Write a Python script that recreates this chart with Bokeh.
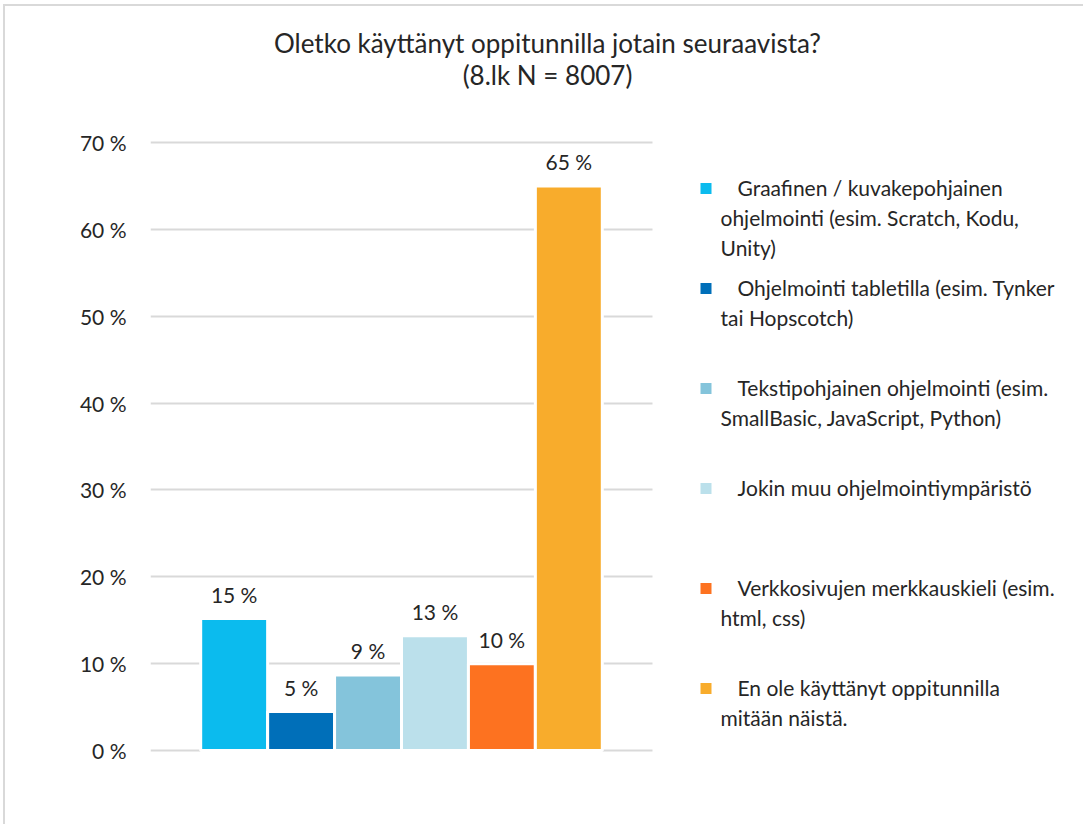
from bokeh.plotting import figure
from bokeh.models import ColumnDataSource, Range1d, FixedTicker, Label, LabelSet
from bokeh.core.properties import value
from bokeh.embed import file_html
from bokeh.resources import INLINE

# ---- data ----
categories = [
    "Graafinen / kuvakepohjainen ohjelmointi (esim. Scratch, Kodu, Unity)",
    "Ohjelmointi tabletilla (esim. Tynker tai Hopscotch)",
    "Tekstipohjainen ohjelmointi (esim. SmallBasic, JavaScript, Python)",
    "Jokin muu ohjelmointiympäristö",
    "Verkkosivujen merkkauskieli (esim. html, css)",
    "En ole käyttänyt oppitunnilla mitään näistä.",
]
values = [15.2, 4.5, 8.7, 13.2, 10.0, 65.0]
value_labels = ["15 %", "5 %", "9 %", "13 %", "10 %", "65 %"]
colors = ["#0BBBEE", "#006FB9", "#84C4DB", "#BBE0EB", "#FD7220", "#F8AC2C"]
legend_lines = [
    ["Graafinen / kuvakepohjainen", "ohjelmointi (esim. Scratch, Kodu,", "Unity)"],
    ["Ohjelmointi tabletilla (esim. Tynker", "tai Hopscotch)"],
    ["Tekstipohjainen ohjelmointi (esim.", "SmallBasic, JavaScript, Python)"],
    ["Jokin muu ohjelmointiympäristö"],
    ["Verkkosivujen merkkauskieli (esim.", "html, css)"],
    ["En ole käyttänyt oppitunnilla", "mitään näistä."],
]
y_ticks = [0, 10, 20, 30, 40, 50, 60, 70]
y_tick_labels = ["0 %", "10 %", "20 %", "30 %", "40 %", "50 %", "60 %", "70 %"]
title_lines = ["Oletko käyttänyt oppitunnilla jotain seuraavista?", "(8.lk N = 8007)"]

FONT = "Lato"
TXT = "#262626"
BORDER = "#D9D9D9"

# ---- layout (page pixels) ----
OX, OY = 5, 6                 # canvas origin on the page (after css border)
W, H = 1080, 820              # canvas size
PL, PR, PT, PB = 150, 652, 142, 750   # chart plot area (page px)
FRAME_TOP, FRAME_BOTTOM = OY, 790      # drawing frame (page px)
PPU_X = (PR - PL) / 7.5
PPU_Y = (PB - PT) / 70.0
X0 = -1.25
X1 = X0 + (OX + W - PL) / PPU_X
Y0 = -(FRAME_BOTTOM - PB) / PPU_Y
Y1 = (PB - FRAME_TOP) / PPU_Y

def dx(px):
    return X0 + (px - PL) / PPU_X

def dy(py):
    return (PB - py) / PPU_Y

p = figure(width=W, height=H, output_backend="svg", toolbar_location=None,
           x_range=Range1d(X0, X1), y_range=Range1d(Y0, Y1),
           x_axis_location=None, tools="")
p.min_border_left = PL - OX
p.min_border_right = 0
p.min_border_top = 0
p.min_border_bottom = OY + H - FRAME_BOTTOM
p.outline_line_color = None
p.background_fill_color = "white"
p.border_fill_color = "white"
p.styles = {"border-left": f"2px solid {BORDER}", "border-top": f"2px solid {BORDER}",
            "margin-left": "3px", "margin-top": "4px"}

src = ColumnDataSource(dict(x=list(range(len(values))), top=values,
                            color=colors, label=value_labels))
p.vbar(x="x", top="top", width=1.0, bottom=0, fill_color="color",
       line_color="white", line_width=3, source=src)

p.yaxis.ticker = FixedTicker(ticks=y_ticks)
p.yaxis.major_label_overrides = {t: l for t, l in zip(y_ticks, y_tick_labels)}
p.yaxis.axis_line_color = None
p.yaxis.major_tick_line_color = None
p.yaxis.minor_tick_line_color = None
p.yaxis.major_label_standoff = 18
p.yaxis.major_label_text_font = FONT
p.yaxis.major_label_text_font_size = "21px"
p.yaxis.major_label_text_color = TXT
p.xgrid.visible = False
p.ygrid.grid_line_color = BORDER
p.ygrid.grid_line_width = 2
try:
    p.ygrid.cross_bounds = (dx(PL), dx(PR))
except Exception:
    p.ygrid.visible = False
    p.segment(x0=dx(PL), x1=dx(PR), y0=y_ticks, y1=y_ticks,
              line_color=BORDER, line_width=2, level="underlay")

labels = LabelSet(x="x", y="top", text="label", source=src, y_offset=24,
                  text_align="center", text_baseline="middle",
                  text_font=value(FONT), text_font_size=value("21px"),
                  text_color=value(TXT))
p.add_layout(labels)

# title
for i, t in enumerate(title_lines):
    p.add_layout(Label(x=545 - OX, y=40 + 32 * i - OY, x_units="canvas", y_units="canvas",
                       text=t, text_align="center", text_baseline="middle",
                       text_font=FONT, text_font_size="26px", text_color=TXT))

# legend
leg_y = [188 + 100 * i for i in range(len(legend_lines))]
p.scatter(x=[dx(705.5)] * len(colors), y=[dy(v) for v in leg_y], marker="square",
          size=11, fill_color=colors, line_color=None)
for yc, lines in zip(leg_y, legend_lines):
    for j, line in enumerate(lines):
        p.add_layout(Label(x=(735 if j == 0 else 718) - OX, y=yc - 3 + 30 * j - OY,
                           x_units="canvas", y_units="canvas",
                           text=line, text_align="left", text_baseline="middle",
                           text_font=FONT, text_font_size="21px", text_color=TXT))

open("out.html", "w").write(file_html(p, INLINE))
